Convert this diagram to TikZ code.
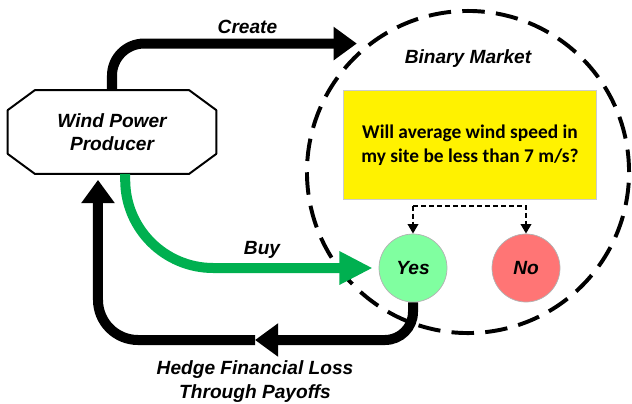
\documentclass[tikz,border=0pt]{standalone}
\usepackage{fontspec}
\setmainfont{Liberation Sans}
\newfontfamily\qfont{Carlito}
\usetikzlibrary{arrows.meta,positioning}

\definecolor{buygreen}{RGB}{0,176,80}
\definecolor{yesgreen}{RGB}{128,255,160}
\definecolor{nored}{RGB}{255,117,117}

\begin{document}
\begin{tikzpicture}[x=0.025cm,y=-0.025cm,
    lbl/.style={font=\fontsize{13.6}{16.5}\selectfont\bfseries\itshape,align=center},
    flow/.style={line width=0.25cm,-{Triangle[length=0.58cm,width=0.8cm]}},
    outcome/.style={circle,draw=gray!60,line width=0.5pt,minimum size=1.7cm,inner sep=0pt,lbl},
    pick/.style={line width=1.6pt,dash pattern=on 3.5pt off 2.2pt,-{Triangle[length=0.24cm,width=0.26cm]}}]
  \useasboundingbox (0,0) rectangle (632,403);

  % producer and the market
  \node[minimum width=5.2cm,minimum height=2.08cm,inner sep=0pt,lbl] (wpp) at (112,132) {Wind Power\\Producer};
  \draw[line width=1.4pt,line join=round]
    ([xshift=0.68cm]wpp.north west) -- ([xshift=-0.68cm]wpp.north east)
    -- ([yshift=-0.5cm]wpp.north east) -- ([yshift=0.5cm]wpp.south east)
    -- ([xshift=-0.68cm]wpp.south east) -- ([xshift=0.68cm]wpp.south west)
    -- ([yshift=0.5cm]wpp.south west) -- ([yshift=-0.5cm]wpp.north west) -- cycle;
  \node[circle,draw,line width=2.8pt,dash pattern=on 16pt off 8pt,minimum size=8.05cm] (market) at (468,172) {};
  \node[lbl,below=0.88cm of market.north] (mkttitle) {Binary Market};
  \node[fill=yellow,draw=gray!40,minimum width=6.33cm,minimum height=2.72cm,align=center,
        font=\qfont\fontsize{13.8}{17}\selectfont\bfseries] (quest) at (470,145)
        {Will average wind speed in\\my site be less than 7 m/s?};
  \node[outcome,fill=yesgreen] (yes) at (413,268) {Yes};
  \node[outcome,fill=nored] (no) at (526,268) {No};

  % outcomes of the question
  \coordinate (split) at ([yshift=-0.15cm]quest.south);
  \draw[pick] (split -| yes) -- (yes.north);
  \draw[pick] (split -| yes) -| (no.north);

  % money flows
  \draw[flow,rounded corners=0.8cm,shorten >=0.27cm] (wpp.north) |- node[lbl,pos=0.765,above] {Create} (market.128);
  \draw[flow,draw=buygreen,rounded corners=2.2cm,shorten >=0.15cm,-{Triangle[length=0.83cm,width=0.78cm]}]
    ([xshift=0.33cm]wpp.south) |- node[lbl,pos=0.77,above] {Buy} (yes.west);
  \coordinate (payback) at (255,340);
  \draw[flow,rounded corners=0.7cm] (yes.south) |- (payback);
  \draw[flow,rounded corners=1cm,shorten >=0.15cm] (payback) -| ([xshift=-0.35cm]wpp.south);
  \node[lbl,below=0.4cm of payback] (hedge) {Hedge Financial Loss\\Through Payoffs};
\end{tikzpicture}
\end{document}
